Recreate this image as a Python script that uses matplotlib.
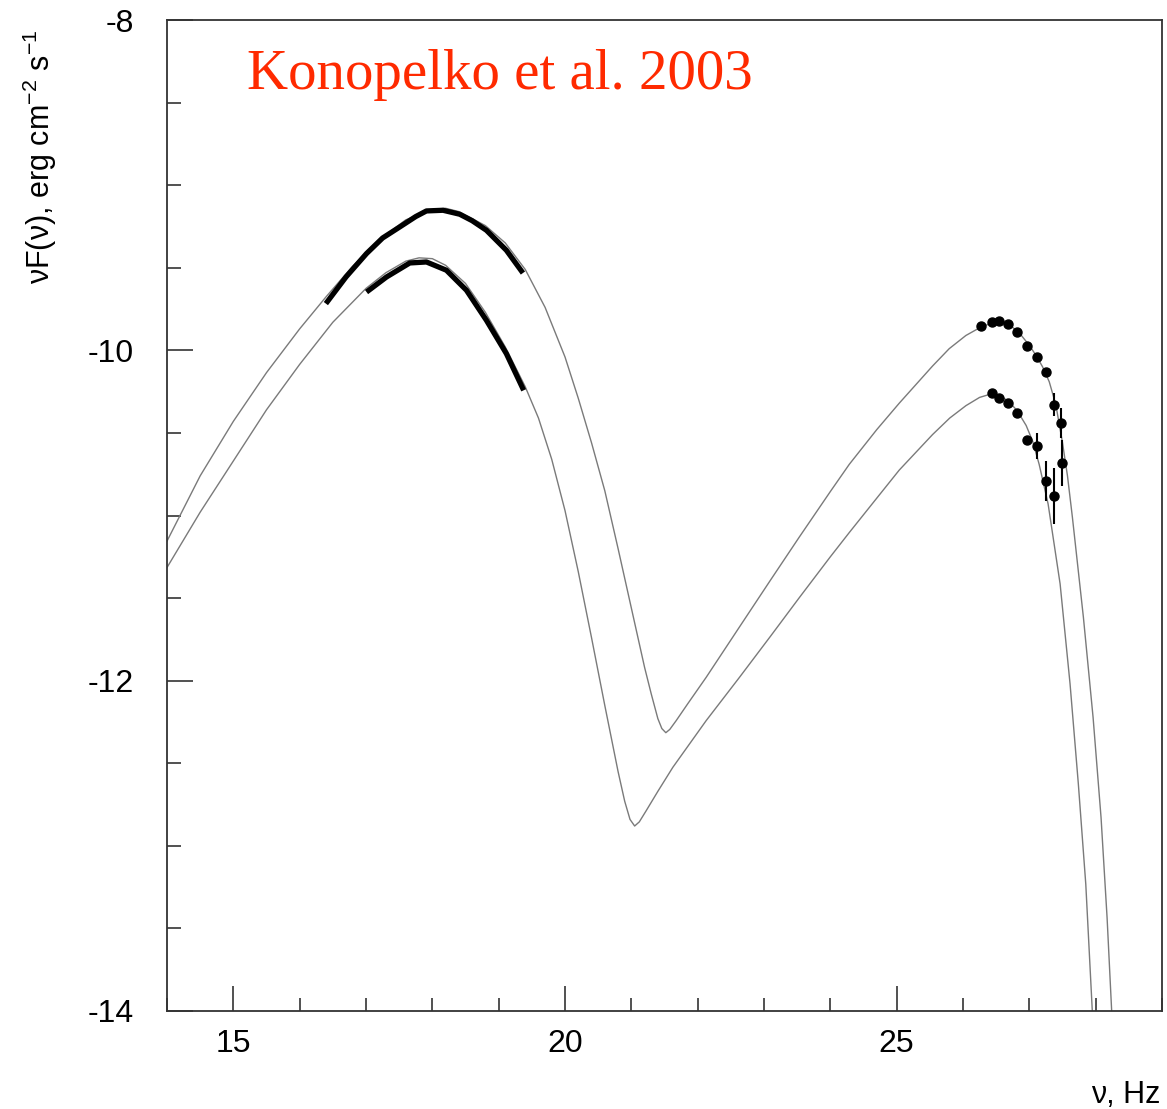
import numpy as np
import matplotlib
matplotlib.use("Agg")
import matplotlib.pyplot as plt
from matplotlib.ticker import MultipleLocator

plt.rcParams["font.family"] = ["Liberation Sans", "DejaVu Sans"]
plt.rcParams["mathtext.fontset"] = "custom"
plt.rcParams["mathtext.rm"] = "Liberation Sans"
plt.rcParams["axes.unicode_minus"] = False

# model curves (log nu, log nuF(nu))
upper_model_x = [14.0, 14.5, 15.0, 15.5, 16.0, 16.4, 16.8, 17.2, 17.6, 18.0, 18.2, 18.4, 18.8, 19.1,
                 19.4, 19.7, 20.0, 20.2, 20.4, 20.6, 20.8, 21.0, 21.2, 21.3, 21.4, 21.46, 21.52, 21.58,
                 21.676, 21.85, 22.128, 22.63, 23.1, 23.533, 24.0, 24.286, 24.7, 25.039, 25.541, 25.792,
                 26.044, 26.244, 26.425, 26.545, 26.7, 26.85, 27.0, 27.1, 27.2, 27.3, 27.4, 27.5,
                 27.575, 27.649, 27.815, 27.961, 28.081, 28.172, 28.242, 28.28]
upper_model_y = [-11.155, -10.76, -10.43, -10.135, -9.87, -9.675, -9.49, -9.33, -9.21, -9.148, -9.140,
                 -9.160, -9.245, -9.35, -9.51, -9.74, -10.04, -10.29, -10.56, -10.85, -11.2, -11.56,
                 -11.92, -12.08, -12.23, -12.29, -12.315, -12.295, -12.242, -12.14, -11.98, -11.675,
                 -11.39, -11.13, -10.855, -10.69, -10.48, -10.32, -10.095, -9.99, -9.91, -9.865,
                 -9.835, -9.826, -9.845, -9.895, -9.97, -10.03, -10.10, -10.19, -10.33, -10.56,
                 -10.76, -11.01, -11.616, -12.222, -12.828, -13.434, -14.006, -14.35]

lower_model_x = [14.0, 14.5, 15.0, 15.5, 16.0, 16.5, 17.0, 17.3, 17.6, 17.8, 18.0, 18.2, 18.5, 18.8,
                 19.1, 19.4, 19.6, 19.8, 20.0, 20.2, 20.4, 20.6, 20.8, 20.9, 20.98, 21.05, 21.12, 21.22,
                 21.4, 21.625, 22.128, 22.63, 23.1, 23.533, 24.0, 24.286, 24.7, 25.039, 25.541, 25.8,
                 26.044, 26.25, 26.44, 26.545, 26.68, 26.816, 26.952, 27.05, 27.148, 27.283, 27.464,
                 27.614, 27.739, 27.851, 27.95, 27.98]
lower_model_y = [-11.315, -10.98, -10.67, -10.36, -10.085, -9.83, -9.625, -9.53, -9.46, -9.44, -9.445,
                 -9.485, -9.595, -9.77, -9.98, -10.22, -10.41, -10.66, -10.97, -11.34, -11.74, -12.15,
                 -12.55, -12.73, -12.84, -12.88, -12.855, -12.79, -12.67, -12.525, -12.242, -11.98,
                 -11.73, -11.497, -11.25, -11.103, -10.895, -10.725, -10.51, -10.41, -10.335, -10.285,
                 -10.262, -10.275, -10.305, -10.365, -10.455, -10.55, -10.69, -10.93, -11.414, -12.02,
                 -12.626, -13.232, -14.006, -14.35]

# X-ray spectra (thick black)
upper_xray_x = [16.395, 16.7, 17.008, 17.25, 17.509, 17.75, 17.911, 18.161, 18.413, 18.6, 18.815,
                19.116, 19.366]
upper_xray_y = [-9.717, -9.555, -9.414, -9.32, -9.253, -9.19, -9.156, -9.152, -9.176, -9.215, -9.273,
                -9.394, -9.532]
lower_xray_x = [17.008, 17.309, 17.66, 17.911, 18.212, 18.514, 18.815, 19.116, 19.377]
lower_xray_y = [-9.647, -9.556, -9.471, -9.465, -9.515, -9.636, -9.818, -10.020, -10.242]

# TeV points
upper_tev_x = [26.27, 26.43, 26.545, 26.68, 26.82, 26.96, 27.11, 27.25, 27.37, 27.48, 27.49]
upper_tev_y = [-9.85, -9.83, -9.82, -9.84, -9.89, -9.975, -10.04, -10.13, -10.33, -10.44, -10.68]
upper_tev_err = [0, 0, 0, 0, 0, 0, 0, 0, 0.07, 0.09, 0.14]
lower_tev_x = [26.43, 26.545, 26.68, 26.82, 26.96, 27.11, 27.25, 27.37]
lower_tev_y = [-10.26, -10.29, -10.32, -10.38, -10.54, -10.58, -10.79, -10.88]
lower_tev_err = [0, 0, 0, 0, 0, 0.08, 0.12, 0.17]

fig = plt.figure(figsize=(11.67, 11.09), dpi=100)
ax = fig.add_axes([167/1167, 1 - 1011/1109, (1162-167)/1167, (1011-20)/1109])

ax.plot(upper_model_x, upper_model_y, color="#7a7a7a", lw=1.0)
ax.plot(lower_model_x, lower_model_y, color="#7a7a7a", lw=1.0)
ax.plot(upper_xray_x, upper_xray_y, color="black", lw=3.8, solid_capstyle="butt")
ax.plot(lower_xray_x, lower_xray_y, color="black", lw=3.8, solid_capstyle="butt")
ax.errorbar(upper_tev_x, upper_tev_y, yerr=upper_tev_err, fmt="o", color="black",
            ms=6.5, elinewidth=1.5, capsize=0)
ax.errorbar(lower_tev_x, lower_tev_y, yerr=lower_tev_err, fmt="o", color="black",
            ms=6.5, elinewidth=1.5, capsize=0)

ax.set_xlim(14, 29)
ax.set_ylim(-14, -8)
ax.xaxis.set_major_locator(MultipleLocator(5))
ax.xaxis.set_minor_locator(MultipleLocator(1))
ax.yaxis.set_major_locator(MultipleLocator(2))
ax.yaxis.set_minor_locator(MultipleLocator(0.5))
ax.tick_params(which="both", direction="in", top=False, right=False, width=1.2, color="#333333")
ax.tick_params(axis="x", which="major", length=18, labelsize=23, pad=13)
ax.tick_params(axis="x", which="minor", length=9.5)
ax.tick_params(axis="y", which="major", length=19, labelsize=23, pad=24)
ax.tick_params(axis="y", which="minor", length=10)
for s in ax.spines.values():
    s.set_linewidth(1.3)
    s.set_color("#333333")

fig.text(40/1167, 1 - 157/1109, r"νF(ν), erg cm$^{-2}$ s$^{-1}$", rotation=90,
         fontsize=22, ha="center", va="center")
fig.text(1160/1167, 1 - 1095/1109, "ν, Hz", fontsize=22, ha="right", va="center")
ax.text(0.080, 0.945, "Konopelko et al. 2003", transform=ax.transAxes, family="Liberation Serif",
        fontsize=41, color="#ff2a00", ha="left", va="center")

fig.savefig("out.png", dpi=100)
